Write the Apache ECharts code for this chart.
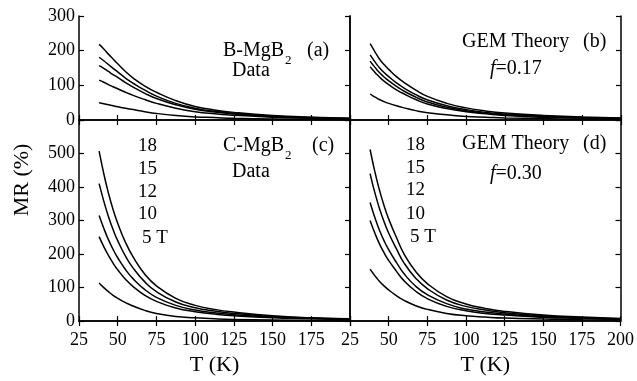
<!DOCTYPE html>
<html>
<head>
<meta charset="utf-8">
<script src="https://cdn.jsdelivr.net/npm/echarts@6/dist/echarts.min.js"></script>
<style>
  html, body { margin: 0; padding: 0; background: #fff; }
  #mr { width: 637px; height: 381px; }
</style>
</head>
<body>
<div id="mr"></div>
<script>
// temperatures (K) at which the curves were read
var tData = [38, 41, 44, 47, 50, 55, 60, 67.5, 75, 87.5, 100, 112.5, 125, 150, 175, 200];
var tTheory = [38, 40, 42, 44, 47, 50, 55, 60, 67.5, 75, 87.5, 100, 112.5, 125, 150, 175, 200];

// (a) B-MgB2 data, 18/15/12/10/5 T
var a18 = [218, 205, 190, 176, 162, 140, 121, 98, 80, 56, 39, 29, 22, 13, 8, 5];
var a15 = [181, 171, 160, 149, 139, 121, 106, 86, 69, 48, 34, 25, 19, 11, 7, 4];
var a12 = [157, 149, 140, 131, 123, 108, 95, 77, 62, 44, 31, 23, 17, 10, 6, 4];
var a10 = [115, 109, 102, 96, 90, 80, 71, 59, 48, 34, 24, 18, 14, 8, 5, 3];
var a5 = [50, 47, 44, 41, 38, 34, 30, 24, 19, 13, 9, 7, 5, 3, 2, 1];

// (b) GEM theory f=0.17
var b18 = [220, 205, 190, 176, 160, 146, 125, 108, 86, 68, 48, 35, 26, 20, 13, 9, 6];
var b15 = [188, 175, 162, 151, 137, 125, 107, 92, 73, 58, 41, 30, 22, 17, 11, 7, 5];
var b12 = [170, 158, 147, 137, 124, 113, 97, 83, 66, 52, 37, 27, 20, 15, 10, 6, 4];
var b10 = [154, 143, 133, 124, 112, 102, 87, 75, 59, 46, 33, 24, 18, 13, 8, 5, 4];
var b5 = [75, 69, 64, 59, 53, 48, 41, 35, 27, 21, 15, 10, 8, 6, 4, 2, 2];

// (c) C-MgB2 data
var c18 = [507, 440, 382, 333, 292, 235, 191, 140, 105, 68, 47, 35, 27, 16, 10, 7];
var c15 = [410, 358, 312, 273, 240, 194, 158, 117, 88, 57, 40, 30, 23, 14, 9, 6];
var c12 = [315, 277, 243, 214, 189, 154, 126, 94, 71, 47, 33, 25, 19, 12, 8, 5];
var c10 = [252, 222, 196, 173, 153, 125, 103, 77, 59, 39, 28, 21, 16, 10, 7, 4];
var c5 = [114, 100, 88, 77, 68, 55, 45, 32, 23, 14, 10, 7, 5, 3, 2, 1];

// (d) GEM theory f=0.30
var d18 = [512, 468, 428, 392, 345, 305, 250, 200, 148, 112, 73, 51, 38, 29, 18, 12, 8];
var d15 = [440, 402, 368, 337, 297, 263, 216, 173, 128, 97, 63, 44, 33, 25, 16, 10, 7];
var d12 = [354, 324, 297, 272, 240, 213, 175, 141, 104, 79, 52, 36, 27, 21, 13, 9, 6];
var d10 = [300, 275, 252, 231, 204, 181, 149, 120, 89, 67, 44, 31, 23, 18, 11, 8, 5];
var d5 = [155, 142, 130, 119, 105, 93, 76, 62, 46, 35, 23, 16, 12, 9, 6, 4, 3];

var serif = 'Liberation Serif';

var panels = [
    { t: tData, curves: [a18, a15, a12, a10, a5], yMax: 300, left: 79, top: 16, height: 104, xLab: false, yLab: true, leftTicks: true },
    { t: tTheory, curves: [b18, b15, b12, b10, b5], yMax: 300, left: 350, top: 16, height: 104, xLab: false, yLab: false, leftTicks: false },
    { t: tData, curves: [c18, c15, c12, c10, c5], yMax: 600, left: 79, top: 120, height: 208, xLab: true, yLab: true, leftTicks: true, hide200: true },
    { t: tTheory, curves: [d18, d15, d12, d10, d5], yMax: 600, left: 350, top: 120, height: 208, xLab: true, yLab: false, leftTicks: false }
];

var grids = [], xAxes = [], yAxes = [], series = [];
var line = { color: '#000', width: 1.5 };
var tick = { inside: true, length: 5, lineStyle: { color: '#000', width: 1.2 } };

panels.forEach(function (p, i) {
    grids.push({ left: p.left, top: p.top, width: 271, height: p.height });
    // bottom + mirrored top x axis
    xAxes.push({
        gridIndex: i, type: 'value', min: 25, max: 200, interval: 25, position: 'bottom',
        axisLine: { lineStyle: line }, axisTick: tick, splitLine: { show: false },
        axisLabel: {
            show: p.xLab, color: '#000', fontFamily: serif, fontSize: 18, margin: 10,
            formatter: function (v) { return (p.hide200 && v === 200) ? '' : v; }
        },
        name: p.xLab ? 'T (K)' : '', nameLocation: 'middle', nameGap: 31,
        nameTextStyle: { color: '#000', fontFamily: serif, fontSize: 22 }
    });
    xAxes.push({
        gridIndex: i, type: 'value', min: 25, max: 200, interval: 25, position: 'top',
        axisLine: { lineStyle: line }, axisTick: tick, axisLabel: { show: false }, splitLine: { show: false }
    });
    // left + mirrored right y axis
    yAxes.push({
        gridIndex: i, type: 'value', min: 0, max: p.yMax, interval: 100, position: 'left',
        axisLine: { lineStyle: line },
        axisTick: { show: p.leftTicks, inside: true, length: 5, lineStyle: { color: '#000', width: 1.2 } },
        splitLine: { show: false },
        axisLabel: {
            show: p.yLab, color: '#000', fontFamily: serif, fontSize: 18, margin: 4,
            formatter: function (v) { return (p.yMax === 600 && v === 600) ? '' : v; }
        }
    });
    yAxes.push({
        gridIndex: i, type: 'value', min: 0, max: p.yMax, interval: 100, position: 'right',
        axisLine: { lineStyle: line }, axisTick: tick, axisLabel: { show: false }, splitLine: { show: false }
    });
    p.curves.forEach(function (vals) {
        series.push({
            type: 'line', xAxisIndex: 2 * i, yAxisIndex: 2 * i,
            smooth: 0.5,
            symbol: 'none', silent: true,
            lineStyle: { color: '#000', width: 1.5 },
            data: p.t.map(function (t, k) { return [t, vals[k]]; })
        });
    });
});

function txt(x, y, s, size, extra) {
    var style = { text: s, fill: '#000', font: (size || 20) + 'px "' + serif + '"' };
    if (extra) { for (var k in extra) style[k] = extra[k]; }
    return { type: 'text', left: x, top: y, style: style, silent: true };
}
var ital = { rich: { i: { fontStyle: 'italic', fontFamily: serif, fontSize: 20, fill: '#000' } } };

var labels = [
    txt(223, 41, 'B-MgB', 20), txt(285, 54, '2', 13), txt(307, 41, '(a)', 20),
    txt(232, 61, 'Data', 20),
    txt(462, 32, 'GEM Theory', 20), txt(583, 32, '(b)', 20),
    txt(490, 59, '{i|f}=0.17', 20, ital),
    txt(223, 136, 'C-MgB', 20), txt(285, 149, '2', 13), txt(312, 136, '(c)', 20),
    txt(232, 162, 'Data', 20),
    txt(138, 137, '18', 19), txt(138, 160, '15', 19), txt(138, 183, '12', 19),
    txt(138, 205, '10', 19), txt(142, 229, '5 T', 19),
    txt(406, 136, '18', 19), txt(406, 159, '15', 19), txt(406, 181, '12', 19),
    txt(406, 205, '10', 19), txt(410, 228, '5 T', 19),
    txt(462, 134, 'GEM Theory', 20), txt(583, 134, '(d)', 20),
    txt(490, 164, '{i|f}=0.30', 20, ital),
    { type: 'text', x: 22, y: 180, rotation: Math.PI / 2, silent: true,
      style: { text: 'MR (%)', fill: '#000', font: '22px "' + serif + '"', align: 'center', verticalAlign: 'middle' } }
];

var chart = echarts.init(document.getElementById('mr'));
chart.setOption({
    animation: false,
    grid: grids,
    xAxis: xAxes,
    yAxis: yAxes,
    series: series,
    graphic: labels
});
</script>
</body>
</html>
